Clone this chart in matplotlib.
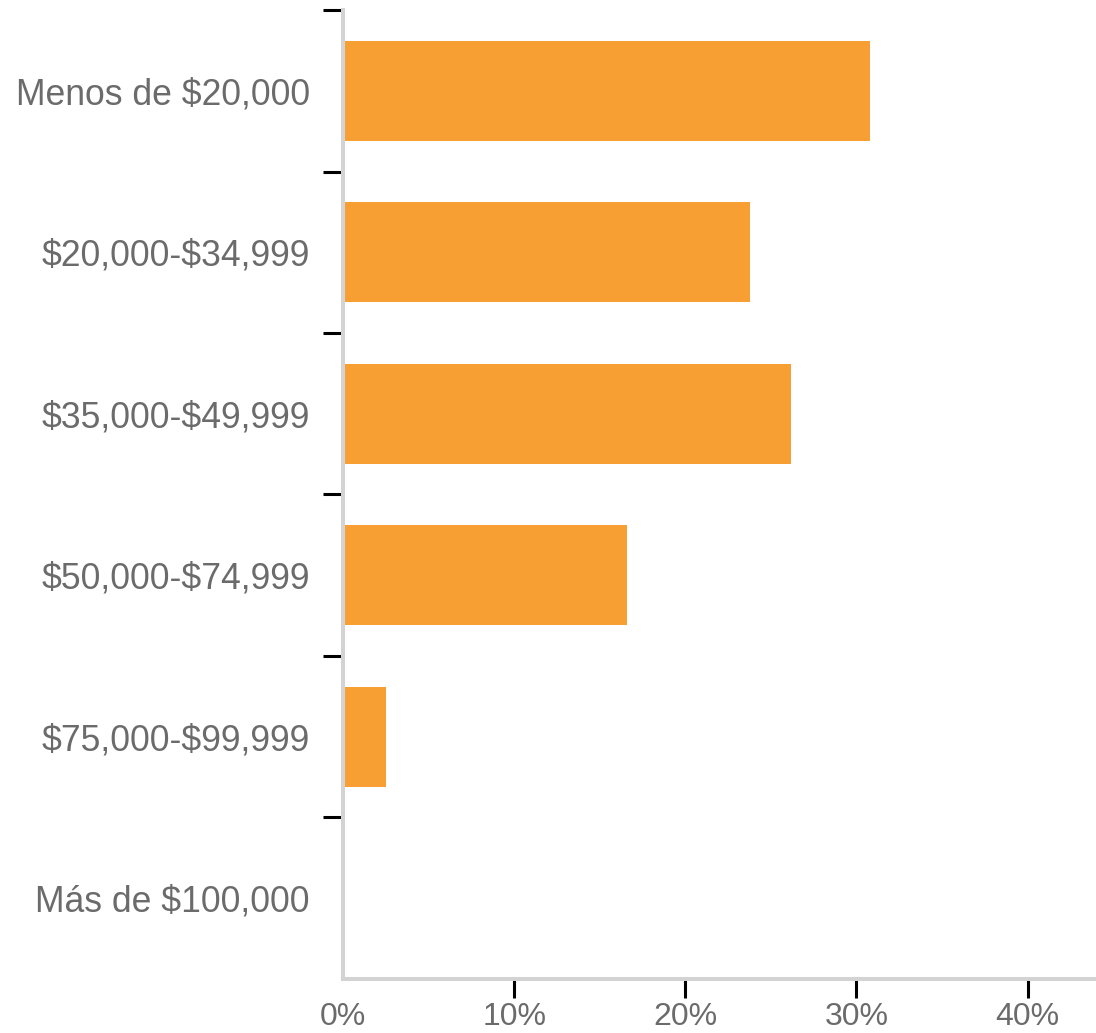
import numpy as np
import matplotlib.pyplot as plt
from matplotlib.ticker import FixedLocator, PercentFormatter

# income brackets and share of respondents (%)
categories = ["Menos de $20,000", "$20,000-$34,999", "$35,000-$49,999",
              "$50,000-$74,999", "$75,000-$99,999", "Más de $100,000"]
values = [30.8, 23.8, 26.2, 16.6, 2.5, 0.0]
xticks = [0, 10, 20, 30, 40]

plt.rcParams['font.family'] = ['Liberation Sans', 'DejaVu Sans']
plt.rcParams['text.parse_math'] = False  # keep the $ signs literal

fig = plt.figure(figsize=(10.96, 10.33), dpi=100)
ax = fig.add_axes([0.313, 0.0523, 0.687, 0.938])

y = np.arange(len(categories))
ax.barh(y, values, height=0.62, color='#F79F32', zorder=2)

ax.set_ylim(len(categories) - 0.5, -0.5)
ax.set_xlim(0, 44)

# category labels at the centres, tick marks at the boundaries
ax.set_yticks(y)
ax.set_yticklabels(categories)
ax.yaxis.set_minor_locator(FixedLocator(np.arange(-0.5, len(categories) - 0.5, 1)))
ax.tick_params(axis='y', which='major', length=0, pad=24, labelsize=25.6, labelcolor='#6B6B6B')
ax.tick_params(axis='y', which='minor', length=14.5, width=2.2, color='black')

ax.set_xticks(xticks)
ax.xaxis.set_major_formatter(PercentFormatter(decimals=0))
ax.tick_params(axis='x', length=13.5, width=2.2, color='black', pad=3,
               labelsize=23, labelcolor='#6B6B6B')
ax.xaxis.get_major_ticks()[0].tick1line.set_visible(False)

for side in ['top', 'right']:
    ax.spines[side].set_visible(False)
for side in ['left', 'bottom']:
    ax.spines[side].set_color('#D3D3D3')
    ax.spines[side].set_linewidth(2.9)

plt.savefig('out.png', dpi=100)
